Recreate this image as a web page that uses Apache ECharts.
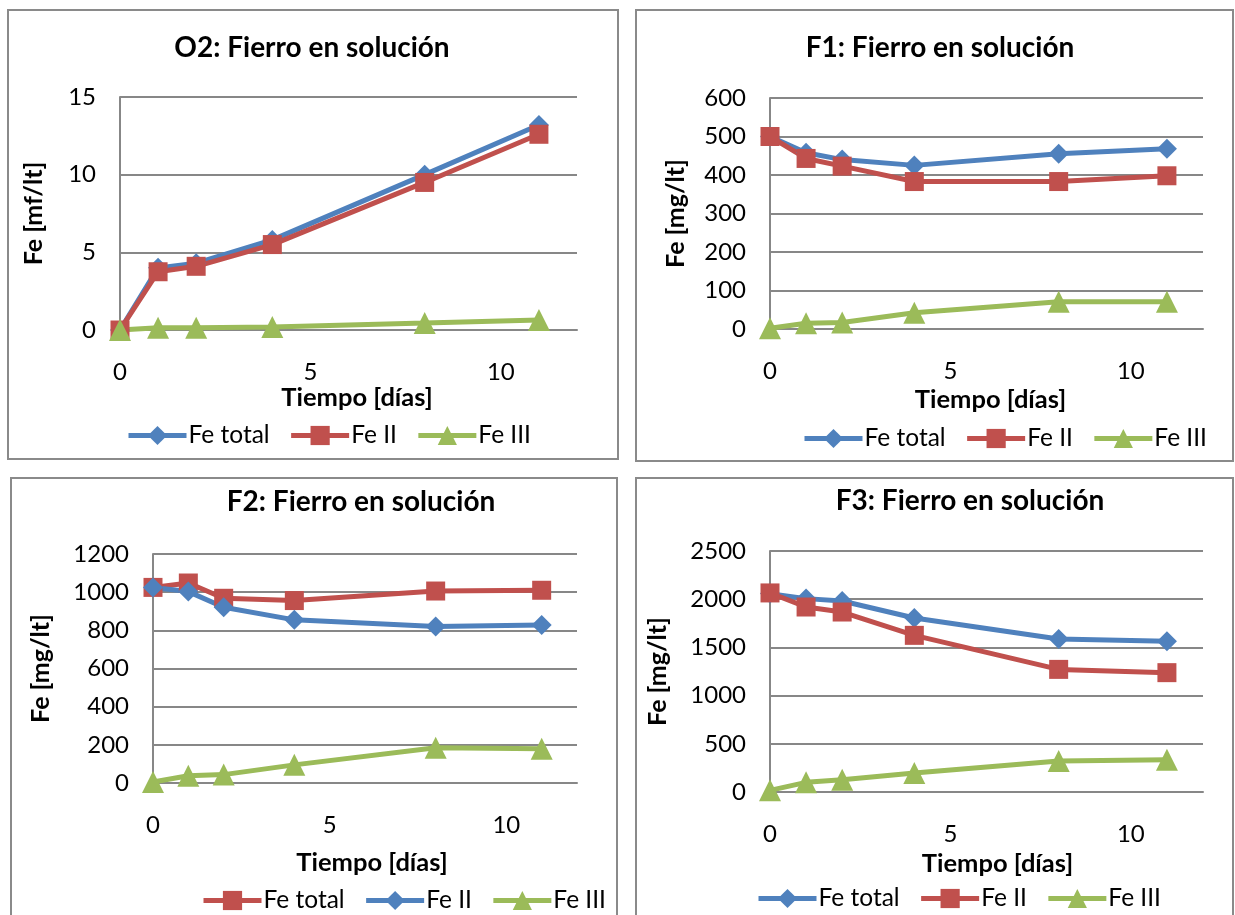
<!DOCTYPE html>
<html><head><meta charset="utf-8">
<script src="https://cdn.jsdelivr.net/npm/echarts@6/dist/echarts.min.js"></script>
<style>html,body{margin:0;padding:0;background:#fff}#c{width:1235px;height:915px}</style>
</head><body><div id="c"></div>
<script>
// ---- data ----
const days = [0, 1, 2, 4, 8, 11];
const xTicks = [0, 5, 10];
const titles = ['O2: Fierro en solución', 'F1: Fierro en solución', 'F2: Fierro en solución', 'F3: Fierro en solución'];
const yNames = ['Fe [mf/lt]', 'Fe [mg/lt]', 'Fe [mg/lt]', 'Fe [mg/lt]'];
const xName = 'Tiempo [días]';
const yMax = [15, 600, 1200, 2500];
const yStep = [5, 100, 200, 500];

const o2FeTotal = [0, 4.0, 4.3, 5.8, 10.0, 13.2];
const o2FeII = [0, 3.75, 4.1, 5.5, 9.5, 12.6];
const o2FeIII = [0, 0.15, 0.15, 0.2, 0.45, 0.65];

const f1FeTotal = [500, 458, 440, 425, 455, 468];
const f1FeII = [500, 443, 423, 383, 383, 398];
const f1FeIII = [2, 15, 17, 42, 71, 71];

const f2FeTotal = [1025, 1048, 968, 956, 1006, 1010];
const f2FeII = [1025, 1003, 921, 855, 820, 828];
const f2FeIII = [5, 38, 44, 95, 185, 180];

const f3FeTotal = [2058, 2006, 1981, 1805, 1587, 1563];
const f3FeII = [2065, 1919, 1867, 1625, 1272, 1238];
const f3FeIII = [17, 100, 128, 197, 322, 335];

// ---- styling / layout ----
const BLUE = '#4F81BD', RED = '#C0504D', GREEN = '#9BBB59', GRID = '#878787';
const FONT = 'Lato';
const panels = [
  { series: [['Fe total', o2FeTotal, BLUE, 'diamond'], ['Fe II', o2FeII, RED, 'rect'], ['Fe III', o2FeIII, GREEN, 'triangle']],
    border: [8, 10, 610, 449], grid: { left: 120, top: 97, width: 457, height: 233 },
    title: [312, 48], legend: [126, 423], xGap: 55, xShift: 17, yGap: 74 },
  { series: [['Fe total', f1FeTotal, BLUE, 'diamond'], ['Fe II', f1FeII, RED, 'rect'], ['Fe III', f1FeIII, GREEN, 'triangle']],
    border: [636, 10, 597, 451], grid: { left: 770, top: 98, width: 433, height: 231 },
    title: [940, 48], legend: [802, 426], xGap: 58, xShift: 8, yGap: 82 },
  { series: [['Fe total', f2FeTotal, RED, 'rect'], ['Fe II', f2FeII, BLUE, 'diamond'], ['Fe III', f2FeIII, GREEN, 'triangle']],
    border: [11, 478, 606, 445], grid: { left: 153, top: 554, width: 424, height: 229 },
    title: [361, 502], legend: [201, 888], xGap: 67, xShift: 14, yGap: 100 },
  { series: [['Fe total', f3FeTotal, BLUE, 'diamond'], ['Fe II', f3FeII, RED, 'rect'], ['Fe III', f3FeIII, GREEN, 'triangle']],
    border: [636, 478, 597, 445], grid: { left: 770, top: 551, width: 433, height: 241 },
    title: [970, 501], legend: [756, 886], xGap: 59, xShift: 22, yGap: 100 }
];
const symSize = { diamond: 20, rect: 19, triangle: 22 };

const option = {
  animation: false,
  backgroundColor: '#fff',
  textStyle: { fontFamily: FONT },
  grid: [], xAxis: [], yAxis: [], series: [], legend: [], graphic: []
};

panels.forEach((p, i) => {
  option.grid.push(Object.assign({ containLabel: false }, p.grid));
  option.xAxis.push({
    type: 'value', gridIndex: i, min: 0, max: 12, interval: 5,
    name: xName, nameLocation: 'middle', nameGap: p.xGap,
    nameTextStyle: { fontFamily: FONT, fontWeight: 'bold', fontSize: 25.5, color: '#000', padding: [0, 0, 0, p.xShift] },
    axisLine: { show: true, lineStyle: { color: GRID, width: 2 } },
    axisTick: { show: false }, splitLine: { show: false },
    axisLabel: { fontFamily: FONT, fontSize: 24, color: '#000', margin: 30,
      formatter: v => (xTicks.indexOf(v) >= 0 ? String(v) : '') }
  });
  option.yAxis.push({
    type: 'value', gridIndex: i, min: 0, max: yMax[i], interval: yStep[i],
    name: yNames[i], nameLocation: 'middle', nameGap: p.yGap,
    nameTextStyle: { fontFamily: FONT, fontWeight: 'bold', fontSize: 25, color: '#000' },
    axisLine: { show: true, lineStyle: { color: GRID, width: 2 } },
    axisTick: { show: false },
    splitLine: { show: true, lineStyle: { color: GRID, width: 2 } },
    axisLabel: { fontFamily: FONT, fontSize: 24, color: '#000', margin: 24, formatter: v => String(v) }
  });
  const legendData = [];
  p.series.forEach(([name, vals, color, sym]) => {
    const id = ['O2', 'F1', 'F2', 'F3'][i] + '|' + name;
    legendData.push(id);
    option.series.push({
      type: 'line', name: id, xAxisIndex: i, yAxisIndex: i,
      data: days.map((d, k) => [d, vals[k]]),
      symbol: sym, symbolSize: symSize[sym],
      lineStyle: { color: color, width: 5 },
      itemStyle: { color: color, borderWidth: 0 },
      emphasis: { disabled: true }
    });
  });
  option.legend.push({
    data: legendData, left: p.legend[0], top: p.legend[1], orient: 'horizontal', padding: 0,
    itemWidth: 58, itemHeight: 24, itemGap: 19,
    lineStyle: { width: 5 },
    formatter: n => n.split('|')[1],
    textStyle: { fontFamily: FONT, fontSize: 24.5, color: '#000', padding: [0, 0, 0, -3] },
    selectedMode: false
  });
  option.graphic.push({
    type: 'rect', shape: { x: p.border[0], y: p.border[1], width: p.border[2], height: p.border[3] },
    style: { fill: 'none', stroke: '#8a8a8a', lineWidth: 2 }, z: -1, silent: true
  });
  option.graphic.push({
    type: 'text', x: p.title[0], y: p.title[1],
    style: { text: titles[i], fontFamily: FONT, fontWeight: 'bold', fontSize: 28, fill: '#000', align: 'center', verticalAlign: 'middle' },
    silent: true
  });
});

const chart = echarts.init(document.getElementById('c'), null, { renderer: 'canvas' });
chart.setOption(option);
</script>
</body></html>
